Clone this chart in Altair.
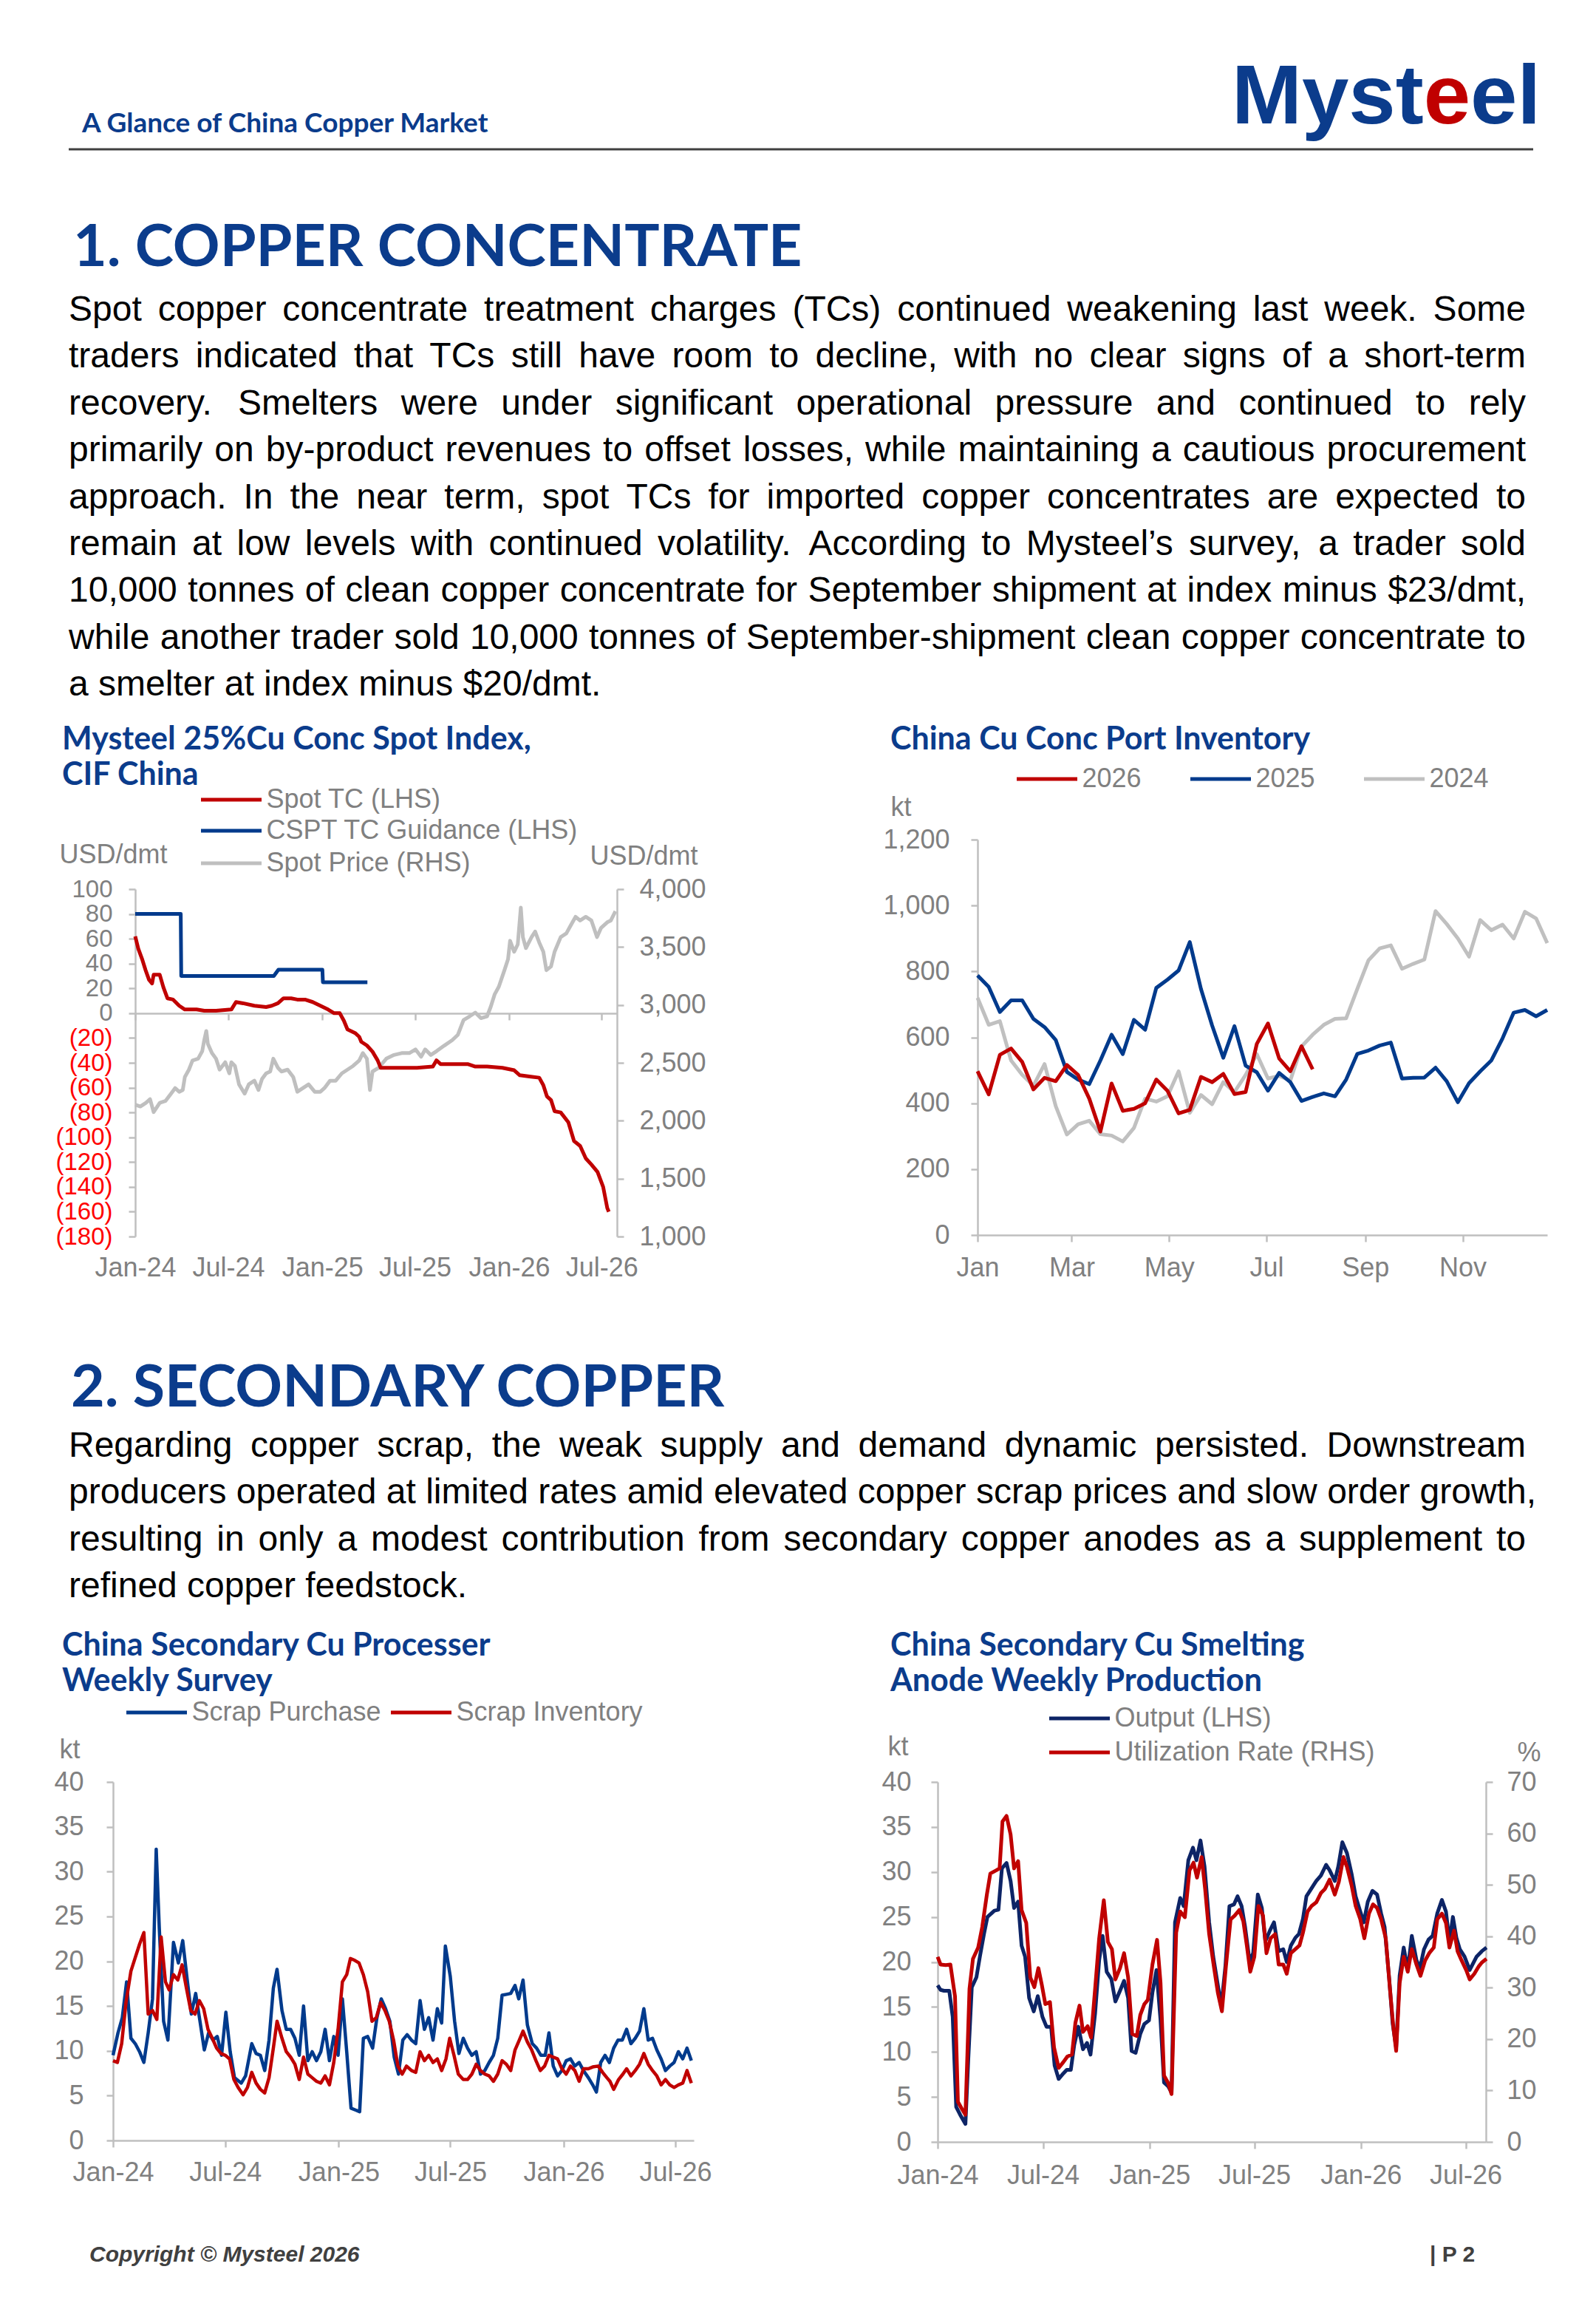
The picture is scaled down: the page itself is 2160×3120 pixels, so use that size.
import altair as alt
import pandas as pd

# ---------------- page geometry ----------------
W, H = 2144, 3104
M = 8


def X(p):
    return p - M


def Y(p):
    return p - M


FONT = "Liberation Sans"
HFONT = "Lato"
NAVY = "#0B3C8C"
RED = "#C00000"
BLUE = "#003A8C"
DARK = "#0D2466"
LGRAY = "#BFBFBF"
TGRAY = "#808080"

# ---------------- text ----------------
HEADER = "A Glance of China Copper Market"
LOGO = ["Myst", "e", "el"]
SEC1 = "1. COPPER CONCENTRATE"
PARA1 = [
    "Spot copper concentrate treatment charges (TCs) continued weakening last week. Some",
    "traders indicated that TCs still have room to decline, with no clear signs of a short-term",
    "recovery. Smelters were under significant operational pressure and continued to rely",
    "primarily on by-product revenues to offset losses, while maintaining a cautious procurement",
    "approach. In the near term, spot TCs for imported copper concentrates are expected to",
    "remain at low levels with continued volatility. According to Mysteel\u2019s survey, a trader sold",
    "10,000 tonnes of clean copper concentrate for September shipment at index minus $23/dmt,",
    "while another trader sold 10,000 tonnes of September-shipment clean copper concentrate to",
    "a smelter at index minus $20/dmt.",
]
SEC2 = "2. SECONDARY COPPER"
PARA2 = [
    "Regarding copper scrap, the weak supply and demand dynamic persisted. Downstream",
    "producers operated at limited rates amid elevated copper scrap prices and slow order growth,",
    "resulting in only a modest contribution from secondary copper anodes as a supplement to",
    "refined copper feedstock.",
]
TITLE1 = ["Mysteel 25%Cu Conc Spot Index,", "CIF China"]
TITLE2 = ["China Cu Conc Port Inventory"]
TITLE3 = ["China Secondary Cu Processer", "Weekly Survey"]
TITLE4 = ["China Secondary Cu Smelting", "Anode Weekly Production"]
FOOTER = "Copyright \u00a9 Mysteel 2026"
PAGE = "| P 2"

# ---------------- chart 1 data (days since 2024-01-01) ----------------
TC_DAYS = [0, 6, 14, 20, 27, 33, 36, 48, 55, 63, 74, 86, 97, 120, 135, 158, 188, 197, 211, 233,
           256, 267, 279, 290, 305, 317, 332, 347, 362, 377, 389, 400, 408, 415, 430, 438, 442, 453, 464, 474,
           480, 491, 514, 551, 582, 589, 597, 627, 650, 665, 688, 718, 741, 752, 771, 790, 798, 805, 813, 820,
           832, 847, 858, 870, 881, 892, 904, 915, 923, 926]
TC_VAL = [62, 52, 43, 35, 27, 24, 31, 31, 21, 12, 11, 6, 3, 3, 2, 2, 3, 9, 8, 6,
          5, 6, 8, 12, 12, 11, 11, 9, 6, 3, 0, 0, -6, -13, -16, -19, -23, -26, -31, -38,
          -44, -44, -44, -44, -43, -38, -41, -41, -41, -43, -43, -44, -46, -50, -51, -52, -58, -67, -70, -79,
          -80, -88, -103, -107, -117, -122, -128, -140, -157, -160]
CSPT_DAYS = [0, 89, 90, 271, 280, 366, 367, 454]
CSPT_VAL = [80, 80, 30, 30, 35, 35, 25, 25]
PRICE_DAYS = [0, 10, 21, 29, 36, 48, 59, 70, 78, 86, 93, 97, 105, 112, 123, 131, 135, 139, 142, 150,
              158, 165, 176, 184, 188, 195, 203, 214, 222, 233, 241, 248, 256, 264, 270, 279, 286, 298, 309, 317,
              328, 339, 351, 362, 370, 381, 392, 404, 415, 426, 438, 445, 453, 459, 464, 476, 491, 506, 521, 536,
              548, 559, 567, 578, 589, 604, 620, 631, 642, 654, 665, 676, 688, 695, 703, 711, 722, 729, 733, 741,
              748, 754, 758, 764, 775, 782, 790, 798, 804, 813, 820, 832, 843, 851, 861, 870, 881, 892, 903, 911,
              923, 930, 939]
PRICE_VAL = [2139, 2123, 2155, 2186, 2075, 2155, 2170, 2234, 2282, 2250, 2266, 2377, 2441, 2520, 2536, 2600, 2696, 2775, 2664, 2584,
             2536, 2441, 2505, 2409, 2505, 2473, 2314, 2234, 2314, 2346, 2266, 2361, 2409, 2425, 2536, 2457, 2425, 2441, 2377, 2250,
             2282, 2314, 2250, 2250, 2282, 2346, 2346, 2409, 2441, 2473, 2520, 2584, 2536, 2266, 2425, 2457, 2536, 2568, 2584, 2584,
             2616, 2552, 2616, 2568, 2600, 2648, 2696, 2743, 2870, 2902, 2934, 2886, 2902, 2982, 3093, 3157, 3300, 3395, 3554, 3459,
             3523, 3841, 3586, 3491, 3586, 3634, 3539, 3459, 3300, 3332, 3459, 3586, 3618, 3682, 3761, 3729, 3761, 3729, 3586, 3666,
             3714, 3729, 3809]

# ---------------- chart 2 data (weekly, kt) ----------------
INV_2024 = [720, 638, 649, 530, 486, 453, 519, 391, 305, 336, 347, 306, 302, 284, 325, 414, 405, 421, 497, 371,
            425, 397, 464, 434, 486, 549, 475, 483, 469, 572, 608, 638, 656, 658, 747, 834, 870, 879, 808, 823,
            836, 983, 944, 900, 845, 956, 925, 942, 900, 981, 961, 886]
INV_2025 = [788, 753, 677, 712, 712, 656, 631, 592, 495, 472, 458, 530, 608, 549, 653, 623, 750, 775, 803, 889,
            747, 636, 538, 634, 514, 494, 438, 492, 464, 407, 419, 430, 421, 472, 550, 560, 575, 584, 475, 477,
            478, 508, 467, 403, 461, 497, 530, 597, 675, 683, 664, 683]
INV_2026 = [497, 427, 547, 566, 525, 442, 477, 467, 516, 486, 414, 314, 460, 377, 383, 400, 472, 438, 369, 380,
            480, 464, 489, 428, 434, 580, 642, 536, 497, 573, 503]

# ---------------- chart 3 data (days since 2024-01-01, kt) ----------------
PUR_DAYS = [0, 8, 15, 22, 29, 36, 43, 50, 57, 64, 70, 75, 82, 89, 98, 106, 113, 120, 127, 134,
            141, 148, 155, 162, 169, 176, 183, 190, 197, 208, 215, 225, 232, 239, 246, 253, 260, 266, 274, 281,
            288, 295, 302, 309, 316, 323, 330, 337, 344, 351, 358, 365, 372, 379, 386, 393, 400, 406, 413, 421,
            428, 435, 442, 449, 456, 463, 470, 477, 484, 491, 498, 505, 512, 519, 526, 533, 539, 547, 554, 561,
            568, 575, 582, 589, 596, 603, 610, 617, 624, 631, 638, 645, 652, 658, 665, 672, 680, 687, 694, 701,
            707, 714, 721, 728, 735, 742, 749, 756, 763, 771, 778, 784, 791, 798, 805, 812, 819, 826, 833, 840,
            847, 854, 861, 868, 875, 882, 889, 896, 903, 910, 917, 924, 931, 938]
PUR_VAL = [9.5, 12.0, 13.7, 17.7, 11.4, 10.8, 9.9, 8.7, 12.0, 15.8, 32.5, 23.7, 13.3, 11.2, 22.1, 19.8, 22.3, 18.1, 14.1, 16.4,
           13.3, 10.1, 12.0, 11.2, 11.6, 9.5, 14.3, 9.9, 7.0, 6.4, 7.2, 10.8, 9.7, 9.5, 7.8, 11.2, 17.0, 19.1, 14.5, 12.4,
           12.4, 11.4, 9.5, 15.0, 8.9, 9.9, 8.9, 9.9, 12.4, 8.9, 11.6, 9.5, 15.8, 9.9, 3.6, 3.4, 3.2, 11.4, 11.6, 10.3,
           13.7, 15.8, 14.7, 13.3, 9.3, 7.4, 11.2, 11.8, 11.2, 10.8, 15.6, 12.4, 13.7, 11.2, 14.7, 13.1, 21.7, 18.3, 13.3, 9.7,
           11.4, 10.3, 9.5, 9.9, 7.4, 7.8, 8.7, 9.5, 11.4, 16.2, 16.3, 16.4, 17.3, 15.8, 17.9, 12.9, 10.8, 10.3, 9.5, 9.5,
           12.0, 8.3, 7.2, 7.8, 8.9, 9.1, 8.3, 8.7, 7.8, 7.0, 6.2, 5.4, 8.7, 9.5, 8.7, 10.3, 11.2, 11.2, 12.4, 10.8,
           11.4, 12.2, 14.7, 11.2, 11.4, 10.1, 9.1, 7.8, 8.3, 8.7, 9.9, 9.1, 10.3, 8.9]
STK_DAYS = [0, 7, 14, 21, 29, 36, 43, 50, 57, 64, 71, 78, 85, 91, 98, 105, 112, 119, 126, 133,
            140, 147, 154, 161, 168, 175, 182, 189, 196, 203, 211, 218, 225, 232, 239, 246, 253, 260, 266, 274,
            281, 288, 295, 302, 309, 316, 323, 330, 337, 344, 351, 358, 365, 372, 379, 385, 392, 399, 406, 413,
            420, 427, 434, 441, 448, 455, 462, 469, 476, 484, 491, 498, 505, 512, 519, 526, 533, 540, 546, 553,
            560, 568, 575, 582, 589, 596, 603, 610, 617, 624, 631, 638, 645, 652, 659, 665, 672, 679, 686, 693,
            700, 707, 714, 721, 728, 735, 742, 749, 756, 763, 771, 778, 787, 794, 801, 806, 812, 820, 827, 833,
            840, 847, 854, 861, 868, 875, 882, 889, 896, 903, 910, 917, 924, 931, 938]
STK_VAL = [8.9, 8.7, 10.8, 15.4, 18.9, 20.4, 21.9, 23.2, 14.1, 14.5, 13.5, 22.7, 17.7, 16.8, 18.5, 17.9, 19.6, 17.0, 14.5, 14.1,
           15.6, 14.7, 12.4, 11.4, 10.3, 9.7, 9.5, 9.1, 6.8, 5.9, 5.1, 5.9, 7.6, 6.4, 5.7, 5.3, 7.0, 10.3, 13.3, 11.4,
           9.9, 9.3, 8.5, 6.8, 9.3, 7.4, 7.0, 6.6, 6.4, 7.2, 6.2, 8.7, 12.4, 17.7, 18.5, 20.3, 20.1, 19.8, 18.5, 16.6,
           13.3, 13.7, 15.4, 14.5, 13.3, 11.2, 8.3, 7.4, 8.3, 7.8, 7.6, 9.9, 8.9, 9.5, 8.7, 9.1, 7.8, 9.1, 11.4, 9.5,
           7.4, 6.8, 6.8, 7.4, 8.5, 7.8, 7.4, 7.2, 6.6, 7.4, 8.9, 8.5, 7.8, 10.1, 11.2, 12.2, 11.0, 10.1, 8.9, 7.8,
           8.3, 9.5, 9.3, 9.1, 8.0, 7.4, 8.3, 7.8, 6.6, 8.0, 8.0, 8.2, 8.3, 7.6, 7.0, 6.6, 5.7, 6.8, 7.4, 8.0,
           7.2, 7.8, 8.5, 9.7, 8.5, 7.8, 7.2, 6.2, 6.8, 6.2, 5.9, 6.2, 6.4, 7.8, 6.4]

# ---------------- chart 4 data (days since 2024-01-01) ----------------
OUT_DAYS = [0, 5, 11, 20, 26, 32, 39, 48, 53, 59, 67, 73, 80, 86, 98, 105, 111, 119, 126, 132,
            139, 145, 151, 158, 166, 173, 181, 188, 196, 202, 209, 217, 223, 230, 236, 243, 251, 258, 264, 272,
            279, 285, 292, 300, 307, 315, 322, 329, 335, 342, 350, 357, 365, 371, 378, 385, 391, 398, 404, 410,
            419, 425, 433, 441, 447, 454, 461, 469, 476, 484, 490, 497, 504, 512, 518, 525, 531, 539, 545, 553,
            560, 566, 574, 581, 589, 597, 603, 610, 618, 624, 631, 637, 645, 654, 662, 671, 677, 686, 692, 699,
            707, 715, 722, 730, 736, 743, 751, 759, 766, 772, 780, 786, 792, 798, 805, 812, 819, 827, 833, 840,
            848, 855, 863, 871, 878, 884, 890, 896, 902, 910, 919, 931, 940, 948]
OUT_VAL = [17.4, 16.9, 16.8, 16.8, 13.9, 3.9, 3.0, 2.0, 9.3, 17.2, 18.3, 20.6, 23.1, 25.0, 25.7, 25.8, 30.4, 31.0, 29.0, 26.0,
           26.7, 21.8, 20.6, 16.0, 14.5, 16.2, 13.9, 12.8, 12.8, 8.5, 7.0, 7.6, 8.0, 8.0, 10.8, 12.8, 10.3, 11.0, 9.7, 14.3,
           20.2, 22.9, 18.9, 18.1, 15.6, 16.8, 17.9, 16.0, 10.1, 9.9, 12.0, 13.1, 13.5, 16.6, 19.1, 13.5, 6.6, 6.2, 5.5, 24.4,
           27.1, 26.2, 31.3, 32.7, 31.3, 33.5, 30.6, 24.4, 20.6, 17.4, 15.1, 19.5, 26.2, 26.4, 27.3, 26.2, 23.9, 20.0, 21.0, 27.5,
           26.0, 22.3, 23.5, 24.4, 21.2, 21.4, 20.0, 21.8, 22.7, 23.1, 24.8, 27.3, 28.1, 29.0, 29.6, 30.8, 30.2, 29.0, 30.6, 33.3,
           32.1, 29.8, 27.3, 25.6, 24.4, 26.7, 27.9, 27.5, 25.4, 23.9, 18.1, 13.1, 10.5, 18.5, 21.6, 19.1, 22.9, 20.2, 19.3, 21.4,
           22.5, 22.9, 25.4, 26.9, 25.6, 22.3, 25.0, 22.7, 21.4, 20.6, 19.1, 20.6, 21.2, 21.6]
UTIL_DAYS = [0, 5, 14, 22, 30, 35, 42, 48, 55, 61, 70, 77, 85, 91, 101, 107, 112, 119, 126, 132,
             139, 145, 153, 160, 167, 174, 180, 186, 194, 201, 209, 217, 224, 232, 238, 245, 251, 259, 265, 272,
             279, 287, 294, 301, 307, 315, 322, 329, 336, 344, 350, 357, 363, 371, 379, 385, 391, 398, 404, 412,
             419, 427, 435, 442, 448, 456, 462, 469, 477, 484, 491, 498, 506, 513, 521, 528, 534, 540, 547, 554,
             562, 568, 575, 583, 589, 597, 603, 610, 618, 625, 631, 639, 646, 654, 662, 669, 677, 686, 693, 701,
             707, 715, 722, 730, 737, 745, 752, 759, 766, 774, 781, 787, 792, 798, 805, 812, 819, 827, 834, 842,
             849, 857, 863, 871, 878, 884, 892, 898, 905, 913, 919, 927, 935, 940, 948]
UTIL_VAL = [36.0, 34.5, 34.4, 34.5, 28.3, 7.8, 6.4, 5.3, 29.8, 35.6, 37.8, 41.8, 48.1, 52.2, 52.8, 53.2, 62.3, 63.4, 59.8, 53.2,
            54.6, 45.1, 42.6, 32.0, 30.1, 33.8, 30.5, 26.8, 27.2, 18.4, 14.4, 15.5, 16.6, 17.0, 23.2, 26.5, 21.4, 22.5, 20.3, 29.8,
            39.6, 47.0, 38.9, 37.5, 31.6, 33.8, 36.7, 32.0, 21.0, 20.6, 24.7, 26.8, 27.6, 34.5, 39.3, 30.9, 12.9, 11.5, 9.3, 40.7,
            44.8, 43.7, 52.8, 54.3, 51.4, 55.4, 49.2, 40.4, 34.2, 29.0, 25.4, 34.2, 43.3, 44.0, 45.1, 42.9, 38.2, 33.1, 36.0, 45.9,
            44.0, 36.7, 39.6, 40.4, 34.5, 34.5, 32.7, 36.7, 37.5, 38.2, 40.7, 44.8, 45.9, 46.6, 48.4, 49.2, 51.0, 48.1, 50.6, 55.4,
            53.5, 49.9, 45.9, 43.3, 39.6, 44.4, 46.2, 45.5, 43.3, 39.6, 30.1, 22.5, 17.7, 30.9, 36.0, 33.1, 37.5, 34.5, 32.3, 35.3,
            36.7, 37.8, 43.3, 44.4, 42.6, 37.8, 41.1, 37.1, 35.3, 33.4, 31.6, 32.7, 34.2, 34.9, 35.6]

# ---------------- helpers ----------------
_AW = dict(zip(" !\"#$%&'()*+,-./", [278, 278, 355, 556, 556, 889, 667, 191, 333, 333, 389, 584, 278, 333, 278, 278]))
_AW.update({c: 556 for c in "0123456789"})
_AW.update(zip(":;<=>?@", [278, 278, 584, 584, 584, 556, 1015]))
_AW.update(zip("ABCDEFGHIJKLMNOPQRSTUVWXYZ",
               [667, 667, 722, 722, 667, 611, 778, 722, 278, 500, 667, 556, 833, 722, 778, 667, 778, 722, 667, 611,
                722, 667, 944, 667, 667, 611]))
_AW.update(zip("abcdefghijklmnopqrstuvwxyz",
               [556, 556, 500, 556, 556, 278, 556, 556, 222, 222, 500, 222, 833, 556, 556, 556, 556, 333, 500, 278,
                556, 500, 722, 500, 500, 500]))
_AW["\u2019"] = 222
_BW = {"M": 833, "y": 556, "s": 556, "t": 333, "e": 556, "l": 278}


def tw(s, size, table=_AW):
    return sum(table.get(c, 556) for c in s) * size / 1000.0


def frame(days, vals, name, base="2024-01-01"):
    b = pd.Timestamp(base)
    return pd.DataFrame({"date": [b + pd.Timedelta(days=int(d)) for d in days],
                         "value": vals, "series": name})


def weekly(vals, name):
    b = pd.Timestamp("2025-01-01")
    return pd.DataFrame({"date": [b + pd.Timedelta(days=7 * i) for i in range(len(vals))],
                         "value": vals, "series": name})


def tx(s, xp, yp, size, color, font=FONT, weight="normal", style="normal", align="left"):
    return alt.Chart(pd.DataFrame({"t": [s]})).mark_text(
        align=align, baseline="alphabetic", font=font, fontSize=size,
        fontWeight=weight, fontStyle=style, color=color,
    ).encode(x=alt.value(X(xp)), y=alt.value(Y(yp)), text="t:N")


def para(lines, x0, rights, y0, dy, size=48):
    rows = []
    for i, line in enumerate(lines):
        y = Y(y0 + i * dy)
        words = line.split(" ")
        if i == len(lines) - 1 or len(words) == 1:
            rows.append({"w": line, "x": X(x0), "y": y})
            continue
        ws = [tw(w, size) for w in words]
        gap = (rights[i] - x0 - sum(ws)) / (len(words) - 1)
        x = x0
        for w, wd in zip(words, ws):
            rows.append({"w": w, "x": X(x), "y": y})
            x += wd + gap
    return alt.Chart(pd.DataFrame(rows)).mark_text(
        align="left", baseline="alphabetic", font=FONT, fontSize=size, color="#000000"
    ).encode(x=alt.X("x:Q", scale=None, axis=None), y=alt.Y("y:Q", scale=None, axis=None), text="w:N")


LEN, SW = 82, 5


def leg(xs, yc):
    box = LEN + SW
    return alt.Legend(orient="none", legendX=X(xs) - SW / 2, legendY=Y(yc) - box / 2, title=None,
                      symbolType="stroke", symbolSize=LEN * LEN, symbolStrokeWidth=SW,
                      labelFont=FONT, labelFontSize=36, labelColor=TGRAY, labelOffset=4,
                      labelLimit=2000, padding=0)


def xax(y_line, label_c, values, fmt):
    return alt.Axis(orient="bottom", offset=Y(y_line) - H, values=values, format=fmt, tickSize=9,
                    labelPadding=label_c - 16 - (y_line + 9), labelFlush=False, labelOverlap=False,
                    labelAngle=0, title=None, grid=False)


def yax(side, x_axis, values, pad, fmt=",.0f", title=None, tpos=None, **kw):
    off = -X(x_axis) if side == "left" else X(x_axis) - W
    args = dict(orient=side, offset=off, values=values, format=fmt, tickSize=9, labelPadding=pad,
                labelOverlap=False, grid=False)
    if title:
        args.update(title=title, titleAngle=0, titleAlign="left", titleBaseline="middle",
                    titleX=tpos[0] - x_axis, titleY=Y(tpos[1]))
    else:
        args["title"] = None
    args.update(kw)
    return alt.Axis(**args)


def series(df, name, color, xdom, xr, ydom, yr, xaxis=None, yaxis=None, legend=None, sw=5):
    return alt.Chart(df).mark_line(strokeWidth=sw, strokeJoin="round").encode(
        x=alt.X("date:T", scale=alt.Scale(domain=xdom, range=xr), axis=xaxis),
        y=alt.Y("value:Q", scale=alt.Scale(domain=ydom, range=yr, nice=False, zero=False), axis=yaxis),
        color=alt.Color("series:N", scale=alt.Scale(domain=[name], range=[color]), legend=legend),
    )


def dt(y, m, d=1):
    return alt.DateTime(year=y, month=m, date=d)


HALF = [dt(2024, 1), dt(2024, 7), dt(2025, 1), dt(2025, 7), dt(2026, 1), dt(2026, 7)]
MONTHS = [dt(2025, m) for m in (1, 3, 5, 7, 9, 11)]

layers = []

# ---------------- header ----------------
layers.append(tx(HEADER, 111, 179, 37, NAVY, HFONT, "bold"))
lx = 1667
for part, col in zip(LOGO, [NAVY, RED, NAVY]):
    layers.append(tx(part, lx, 167, 114, col, FONT, "bold"))
    lx += tw(part, 114, _BW)
layers.append(
    alt.Chart(pd.DataFrame({"a": [0]})).mark_rule(color="#404040", strokeWidth=3).encode(
        x=alt.value(X(93)), x2=alt.value(X(2075)), y=alt.value(Y(202)))
)

# ---------------- section 1 ----------------
layers.append(tx(SEC1, 99, 360, 79, NAVY, HFONT, "bold"))
layers.append(para(PARA1, 93, [2065] * 9, 434, 63.4))

# chart 1
layers.append(tx(TITLE1[0], 84, 1014, 43, NAVY, HFONT, "bold"))
layers.append(tx(TITLE1[1], 84, 1062, 43, NAVY, HFONT, "bold"))
X1DOM = [dt(2024, 1), dt(2026, 7, 31)]
X1R = [X(183), X(835)]
Y1R = [Y(1673), Y(1203)]
tc_label = ("datum.value < 0 ? '(' + format(-datum.value, ',') + ')' : "
            "format(datum.value, ',') + '\u00a0'")
layers.append(series(
    frame(PRICE_DAYS, PRICE_VAL, "Spot Price (RHS)"), "Spot Price (RHS)", LGRAY, X1DOM, X1R,
    [1000, 4000], Y1R,
    yaxis=yax("right", 835, list(range(1000, 4001, 500)), 21, title="USD/dmt", tpos=(798, 1158)),
    legend=leg(272, 1168)))
layers.append(series(
    frame(TC_DAYS, TC_VAL, "Spot TC (LHS)"), "Spot TC (LHS)", RED, X1DOM, X1R, [-180, 100], Y1R,
    xaxis=xax(1371, 1714, HALF, "%b-%y"),
    yaxis=yax("left", 183, list(range(-180, 101, 20)), 22, title="USD/dmt", tpos=(80, 1156),
              labelExpr=tc_label, labelFontSize=33,
              labelColor={"condition": {"test": "datum.value < 0", "value": "#FF0000"}, "value": TGRAY}),
    legend=leg(272, 1082)))
layers.append(series(
    frame(CSPT_DAYS, CSPT_VAL, "CSPT TC Guidance (LHS)"), "CSPT TC Guidance (LHS)", BLUE, X1DOM, X1R,
    [-180, 100], Y1R, legend=leg(272, 1124)))

# chart 2
layers.append(tx(TITLE2[0], 1205, 1014, 43, NAVY, HFONT, "bold"))
X2DOM = [dt(2025, 1), dt(2025, 12, 24)]
X2R = [X(1323), X(2094)]
Y2R = [Y(1671), Y(1136)]
layers.append(series(
    weekly(INV_2024, "2024"), "2024", "#C0C0C0", X2DOM, X2R, [0, 1200], Y2R,
    xaxis=xax(1671, 1714, MONTHS, "%b"),
    yaxis=yax("left", 1323, list(range(0, 1201, 200)), 29, title="kt", tpos=(1205, 1092)),
    legend=leg(1846, 1054)))
layers.append(series(weekly(INV_2025, "2025"), "2025", BLUE, X2DOM, X2R, [0, 1200], Y2R,
                     legend=leg(1611, 1054)))
layers.append(series(weekly(INV_2026, "2026"), "2026", RED, X2DOM, X2R, [0, 1200], Y2R,
                     legend=leg(1376, 1054)))

# ---------------- section 2 ----------------
layers.append(tx(SEC2, 96, 1903, 79, NAVY, HFONT, "bold"))
layers.append(para(PARA2, 93, [2065, 2079, 2065, 2065], 1971, 63.4))

# chart 3
layers.append(tx(TITLE3[0], 84, 2240, 43, NAVY, HFONT, "bold"))
layers.append(tx(TITLE3[1], 84, 2288, 43, NAVY, HFONT, "bold"))
X3DOM = [dt(2024, 1), dt(2026, 7, 31)]
X3R = [X(153), X(939)]
Y3R = [Y(2896), Y(2411)]
layers.append(series(
    frame(PUR_DAYS, PUR_VAL, "Scrap Purchase"), "Scrap Purchase", BLUE, X3DOM, X3R, [0, 40], Y3R,
    xaxis=xax(2896, 2938, HALF, "%b-%y"),
    yaxis=yax("left", 153, list(range(0, 41, 5)), 31, fmt="d", title="kt", tpos=(80, 2367)),
    legend=leg(171, 2317), sw=4.5))
layers.append(series(
    frame(STK_DAYS, STK_VAL, "Scrap Inventory"), "Scrap Inventory", RED, X3DOM, X3R, [0, 40], Y3R,
    legend=leg(529, 2317), sw=4.5))

# chart 4
layers.append(tx(TITLE4[0], 1205, 2240, 43, NAVY, HFONT, "bold"))
layers.append(tx(TITLE4[1], 1205, 2288, 43, NAVY, HFONT, "bold"))
X4DOM = [dt(2024, 1), dt(2026, 8, 5)]
X4R = [X(1269), X(2011)]
Y4R = [Y(2898), Y(2411)]
layers.append(series(
    frame(OUT_DAYS, OUT_VAL, "Output (LHS)"), "Output (LHS)", DARK, X4DOM, X4R, [0, 40], Y4R,
    xaxis=xax(2898, 2942, HALF, "%b-%y"),
    yaxis=yax("left", 1269, list(range(0, 41, 5)), 27, fmt="d", title="kt", tpos=(1201, 2363)),
    legend=leg(1420, 2325)))
layers.append(series(
    frame(UTIL_DAYS, UTIL_VAL, "Utilization Rate (RHS)"), "Utilization Rate (RHS)", RED, X4DOM, X4R,
    [0, 70], Y4R,
    yaxis=yax("right", 2011, list(range(0, 71, 10)), 19, fmt="d", title="%", tpos=(2053, 2371)),
    legend=leg(1420, 2371)))

# ---------------- footer ----------------
layers.append(tx(FOOTER, 121, 3060, 30, "#404040", FONT, "bold", "italic"))
layers.append(tx(PAGE, 1935, 3060, 30, "#404040", FONT, "bold"))

chart = (
    alt.layer(*layers)
    .properties(width=W, height=H, padding=0, autosize=alt.AutoSizeParams(type="none"))
    .resolve_scale(x="independent", y="independent", color="independent")
    .resolve_axis(x="independent", y="independent")
    .resolve_legend(color="independent")
    .configure_view(stroke=None)
    .configure_axis(labelFont=FONT, labelFontSize=36, labelColor=TGRAY, domainColor=LGRAY,
                    tickColor=LGRAY, domainWidth=2.5, tickWidth=2.5, grid=False,
                    titleFont=FONT, titleFontSize=36, titleFontWeight="normal", titleColor=TGRAY)
)

chart.save("out.html", embed_options={"renderer": "svg", "actions": False})
